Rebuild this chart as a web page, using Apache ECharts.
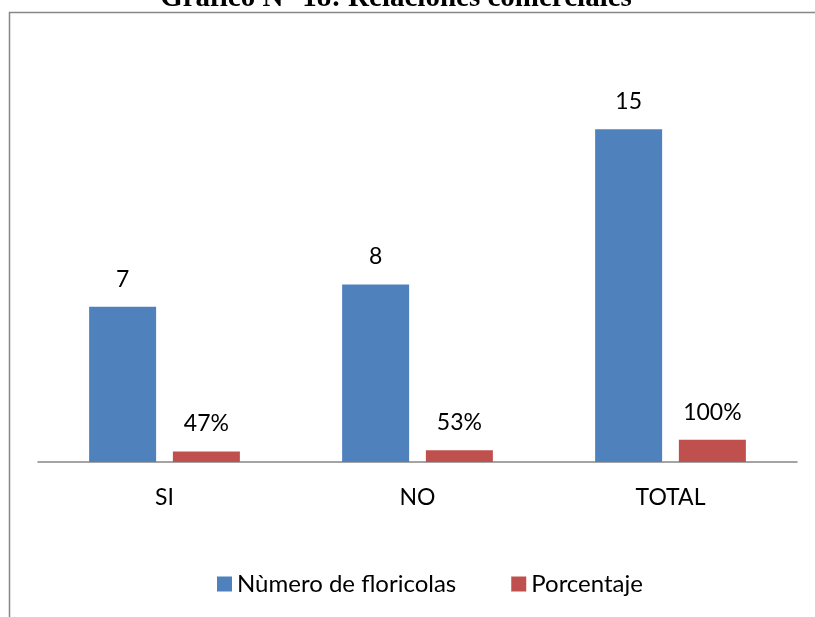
<!DOCTYPE html>
<html>
<head>
<meta charset="utf-8">
<script src="https://cdn.jsdelivr.net/npm/echarts@6/dist/echarts.min.js"></script>
<style>
    html, body { margin: 0; padding: 0; background: #fff; }
    #chart { width: 815px; height: 617px; }
</style>
</head>
<body>
<div id="chart"></div>
<script>
    // datos del grafico
    var categorias = ['SI', 'NO', 'TOTAL'];
    var floricolas = [7, 8, 15];
    var porcentaje = [0.47, 0.53, 1];

    var fuente = 'Lato';

    var chart = echarts.init(document.getElementById('chart'));
    chart.setOption({
        animation: false,
        color: ['#4f81bd', '#c0504d'],
        graphic: [
            {
                type: 'rect',
                shape: {x: 9.5, y: 12.5, width: 900, height: 700},
                style: {fill: 'none', stroke: '#878787', lineWidth: 1.5},
                silent: true
            },
            {
                type: 'text',
                x: 396,
                y: 13,
                style: {
                    text: 'Gráfico N° 18: Relaciones comerciales',
                    font: 'bold 29px "Liberation Serif"',
                    fill: '#000',
                    align: 'center',
                    verticalAlign: 'bottom'
                }
            }
        ],
        legend: {
            top: 567,
            left: 212,
            itemWidth: 15,
            itemHeight: 15,
            itemGap: 55,
            icon: 'rect',
            textStyle: {fontFamily: fuente, fontSize: 24, color: '#000'},
            data: ['Nùmero de floricolas', 'Porcentaje']
        },
        grid: {
            left: 38,
            right: 18,
            top: 107,
            bottom: 155,
            containLabel: false
        },
        xAxis: {
            type: 'category',
            data: categorias,
            axisLine: {lineStyle: {color: '#868686', width: 1.5}},
            axisTick: {show: false},
            axisLabel: {fontFamily: fuente, fontSize: 23, color: '#000', margin: 24}
        },
        yAxis: {
            type: 'value',
            min: 0,
            max: 16,
            show: false,
            splitLine: {show: false}
        },
        series: [
            {
                name: 'Nùmero de floricolas',
                type: 'bar',
                data: floricolas,
                barWidth: 67,
                barGap: '25%',
                label: {
                    show: true,
                    position: 'top',
                    distance: 16,
                    fontFamily: fuente,
                    fontSize: 23,
                    color: '#000'
                }
            },
            {
                name: 'Porcentaje',
                type: 'bar',
                data: porcentaje,
                barWidth: 67,
                label: {
                    show: true,
                    position: 'top',
                    distance: 16,
                    fontFamily: fuente,
                    fontSize: 23,
                    color: '#000',
                    formatter: function (p) {
                        return Math.round(p.value * 100) + '%';
                    }
                }
            }
        ]
    });
</script>
</body>
</html>
